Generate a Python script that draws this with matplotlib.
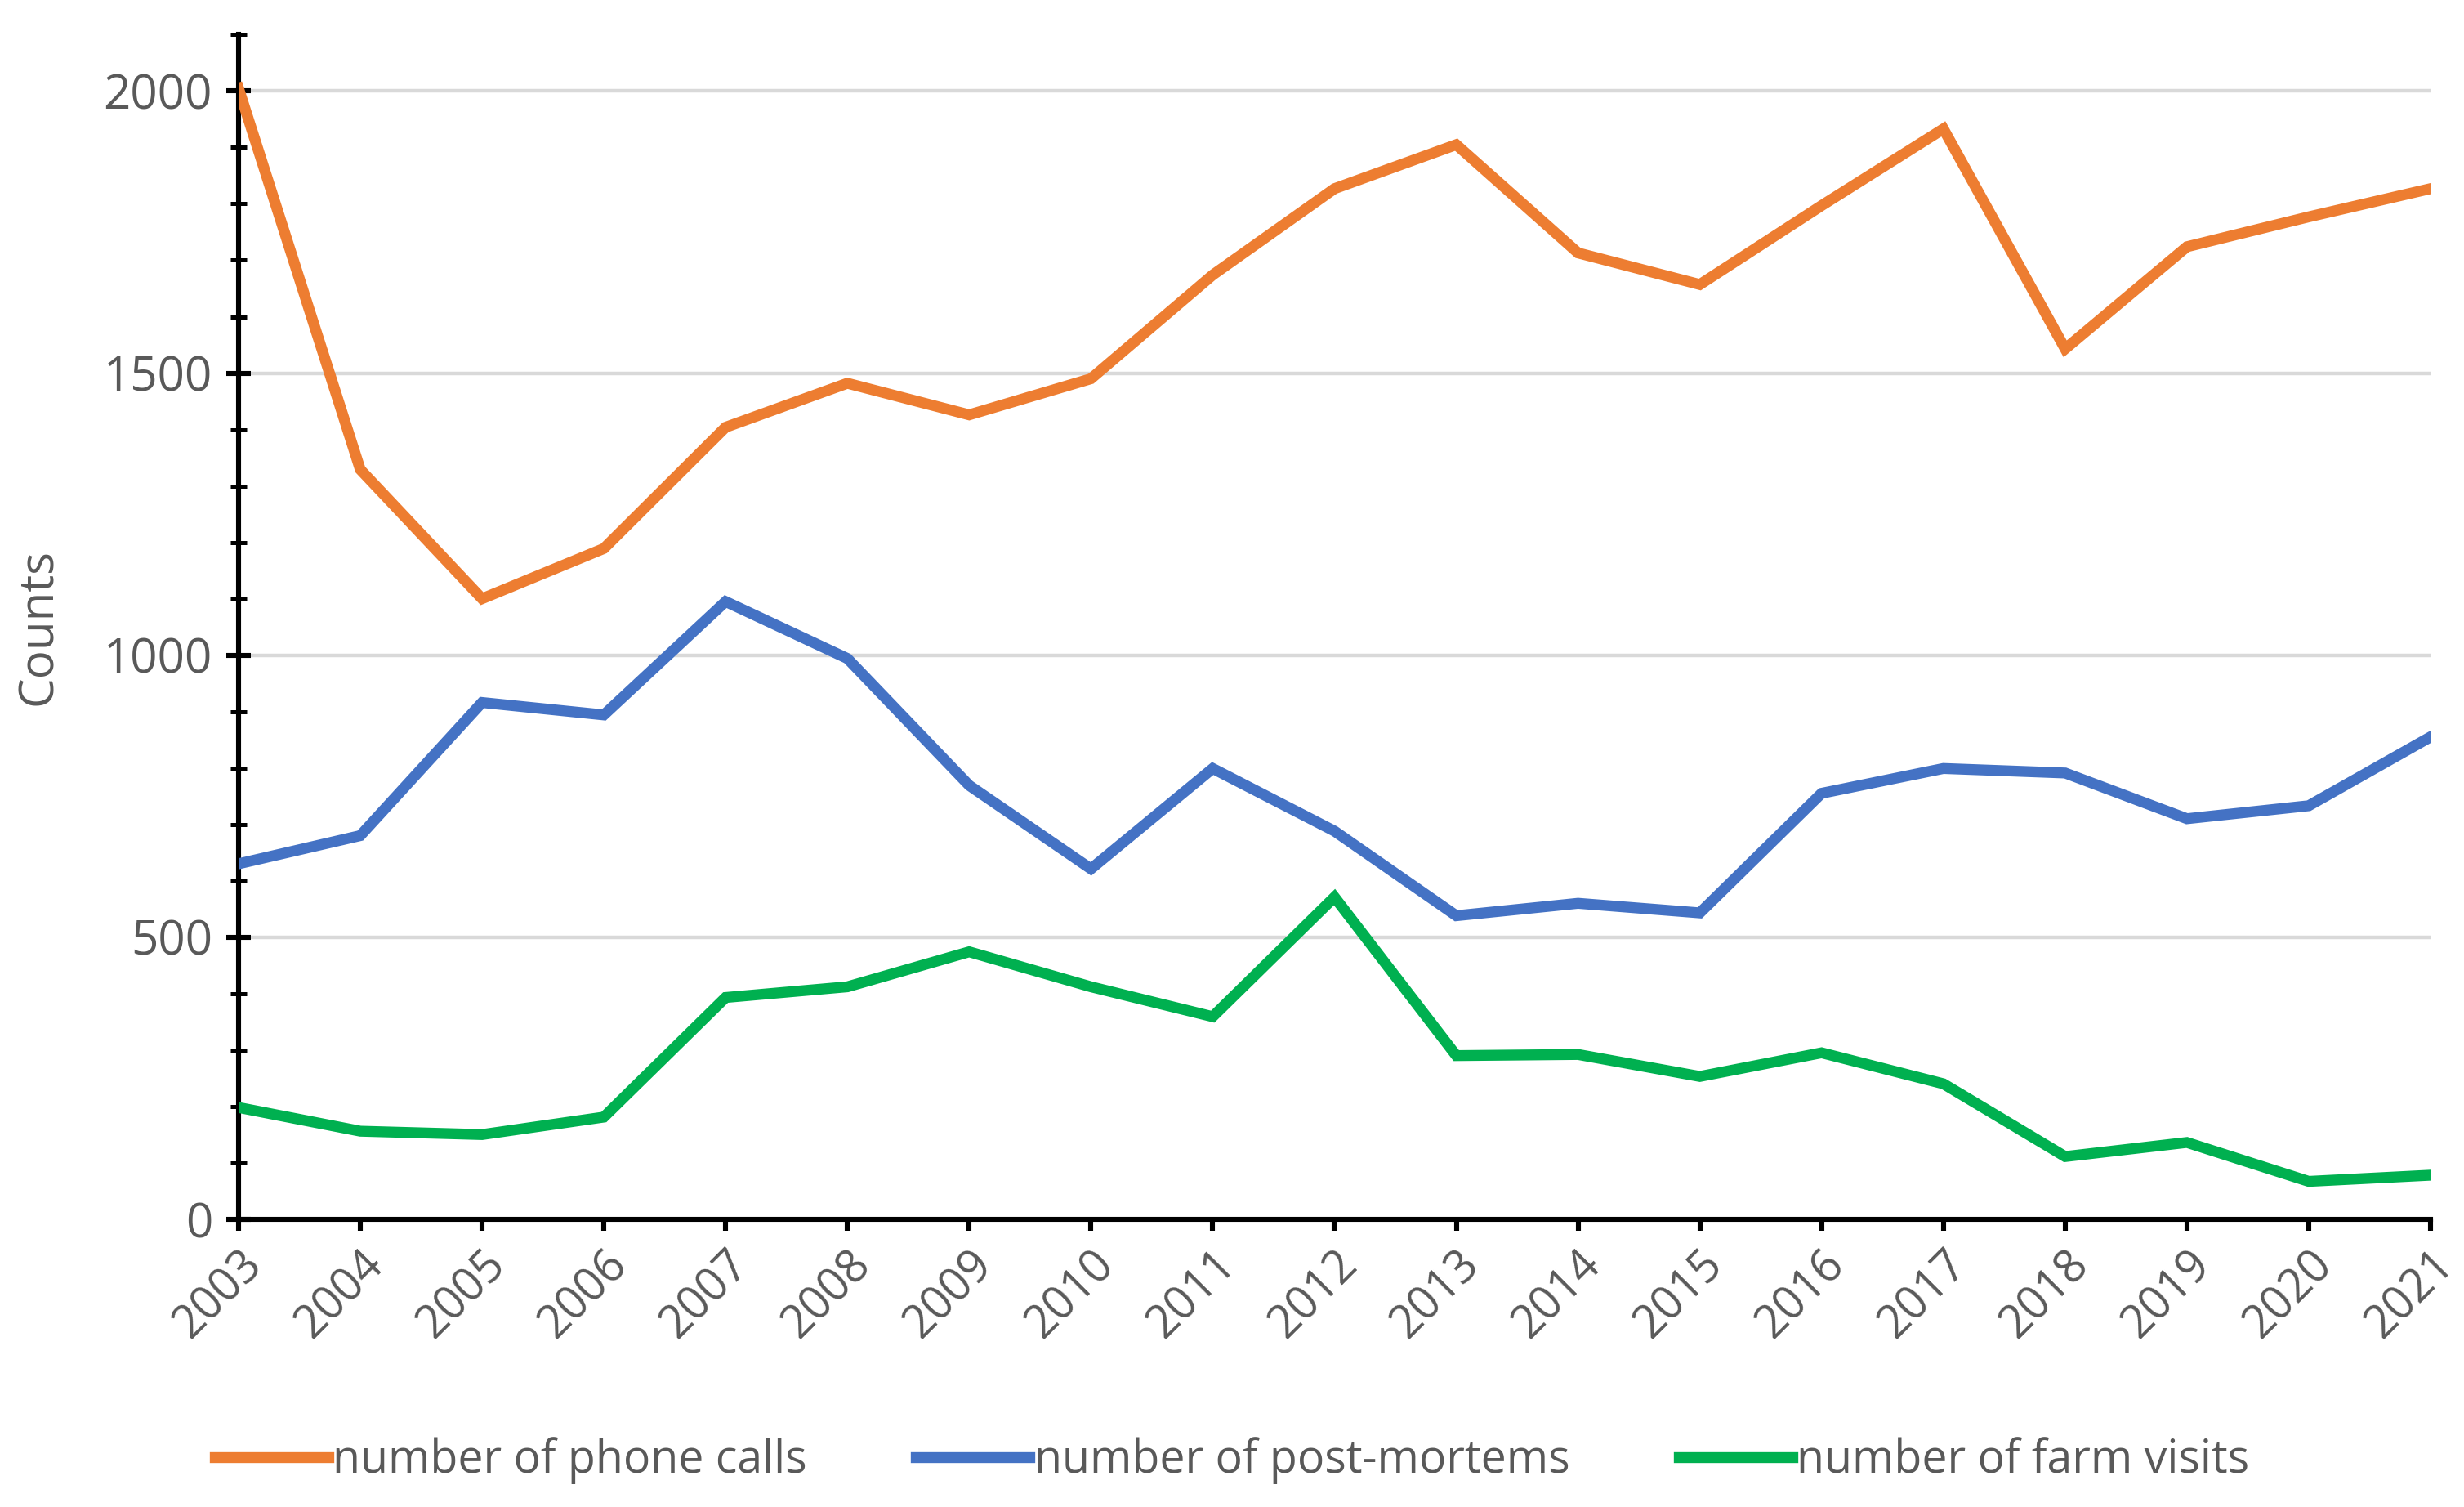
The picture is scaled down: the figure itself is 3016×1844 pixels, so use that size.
import numpy as np
import matplotlib.pyplot as plt
from matplotlib.ticker import MultipleLocator

plt.rcParams['font.family'] = ['Open Sans', 'DejaVu Sans']

# Data
years = list(range(2003, 2022))
phone_calls = [2005, 1329, 1100, 1189, 1404, 1482, 1426, 1490, 1674, 1827,
               1905, 1713, 1657, 1797, 1933, 1543, 1724, 1777, 1827]
post_mortems = [630, 680, 916, 894, 1095, 994, 769, 621, 799, 688,
                538, 560, 543, 755, 799, 791, 710, 733, 855]
farm_visits = [198, 156, 150, 181, 393, 412, 474, 412, 359, 571,
               290, 292, 253, 295, 240, 111, 136, 67, 78]

series_labels = ['number of phone calls', 'number of post-mortems', 'number of farm visits']
colors = ['#ED7D31', '#4472C4', '#00B050']

grey = '#595959'

fig = plt.figure(figsize=(15.08, 9.22), dpi=200)
ax = fig.add_axes([0.0968, 0.191, 0.8896, 0.786])

for vals, lab, c in zip([phone_calls, post_mortems, farm_visits], series_labels, colors):
    ax.plot(years, vals, color=c, lw=4.8, label=lab, solid_joinstyle='miter', zorder=3)

ax.set_xlim(2003, 2021)
ax.set_ylim(0, 2100)
ax.set_xticks(years)
ax.set_xticklabels([str(y) for y in years], rotation=45, ha='right',
                   rotation_mode='anchor', color=grey, fontsize=20)
ax.yaxis.set_major_locator(MultipleLocator(500))
ax.yaxis.set_minor_locator(MultipleLocator(100))
ax.set_yticks([0, 500, 1000, 1500, 2000])
for lbl in ax.get_yticklabels():
    lbl.set_color(grey)
    lbl.set_fontsize(21)

ax.grid(axis='y', which='major', color='#D9D9D9', lw=1.6, zorder=0)
ax.set_axisbelow(True)

for s in ['top', 'right']:
    ax.spines[s].set_visible(False)
for s in ['left', 'bottom']:
    ax.spines[s].set_linewidth(2.2)
    ax.spines[s].set_color('black')

ax.tick_params(axis='y', which='major', direction='inout', length=11, width=2.2, pad=6)
ax.tick_params(axis='y', which='minor', direction='inout', length=7, width=1.8)
ax.tick_params(axis='x', which='major', direction='out', length=5, width=2.2, pad=5)

ax.set_ylabel('Counts', color=grey, fontsize=21, labelpad=18)

fig.legend(loc='lower center', bbox_to_anchor=(0.5, -0.012), ncol=3, frameon=False,
           fontsize=20, handlelength=2.5, handletextpad=0.1, columnspacing=2.4,
           labelcolor=grey)

fig.savefig('out.png', dpi=200)
